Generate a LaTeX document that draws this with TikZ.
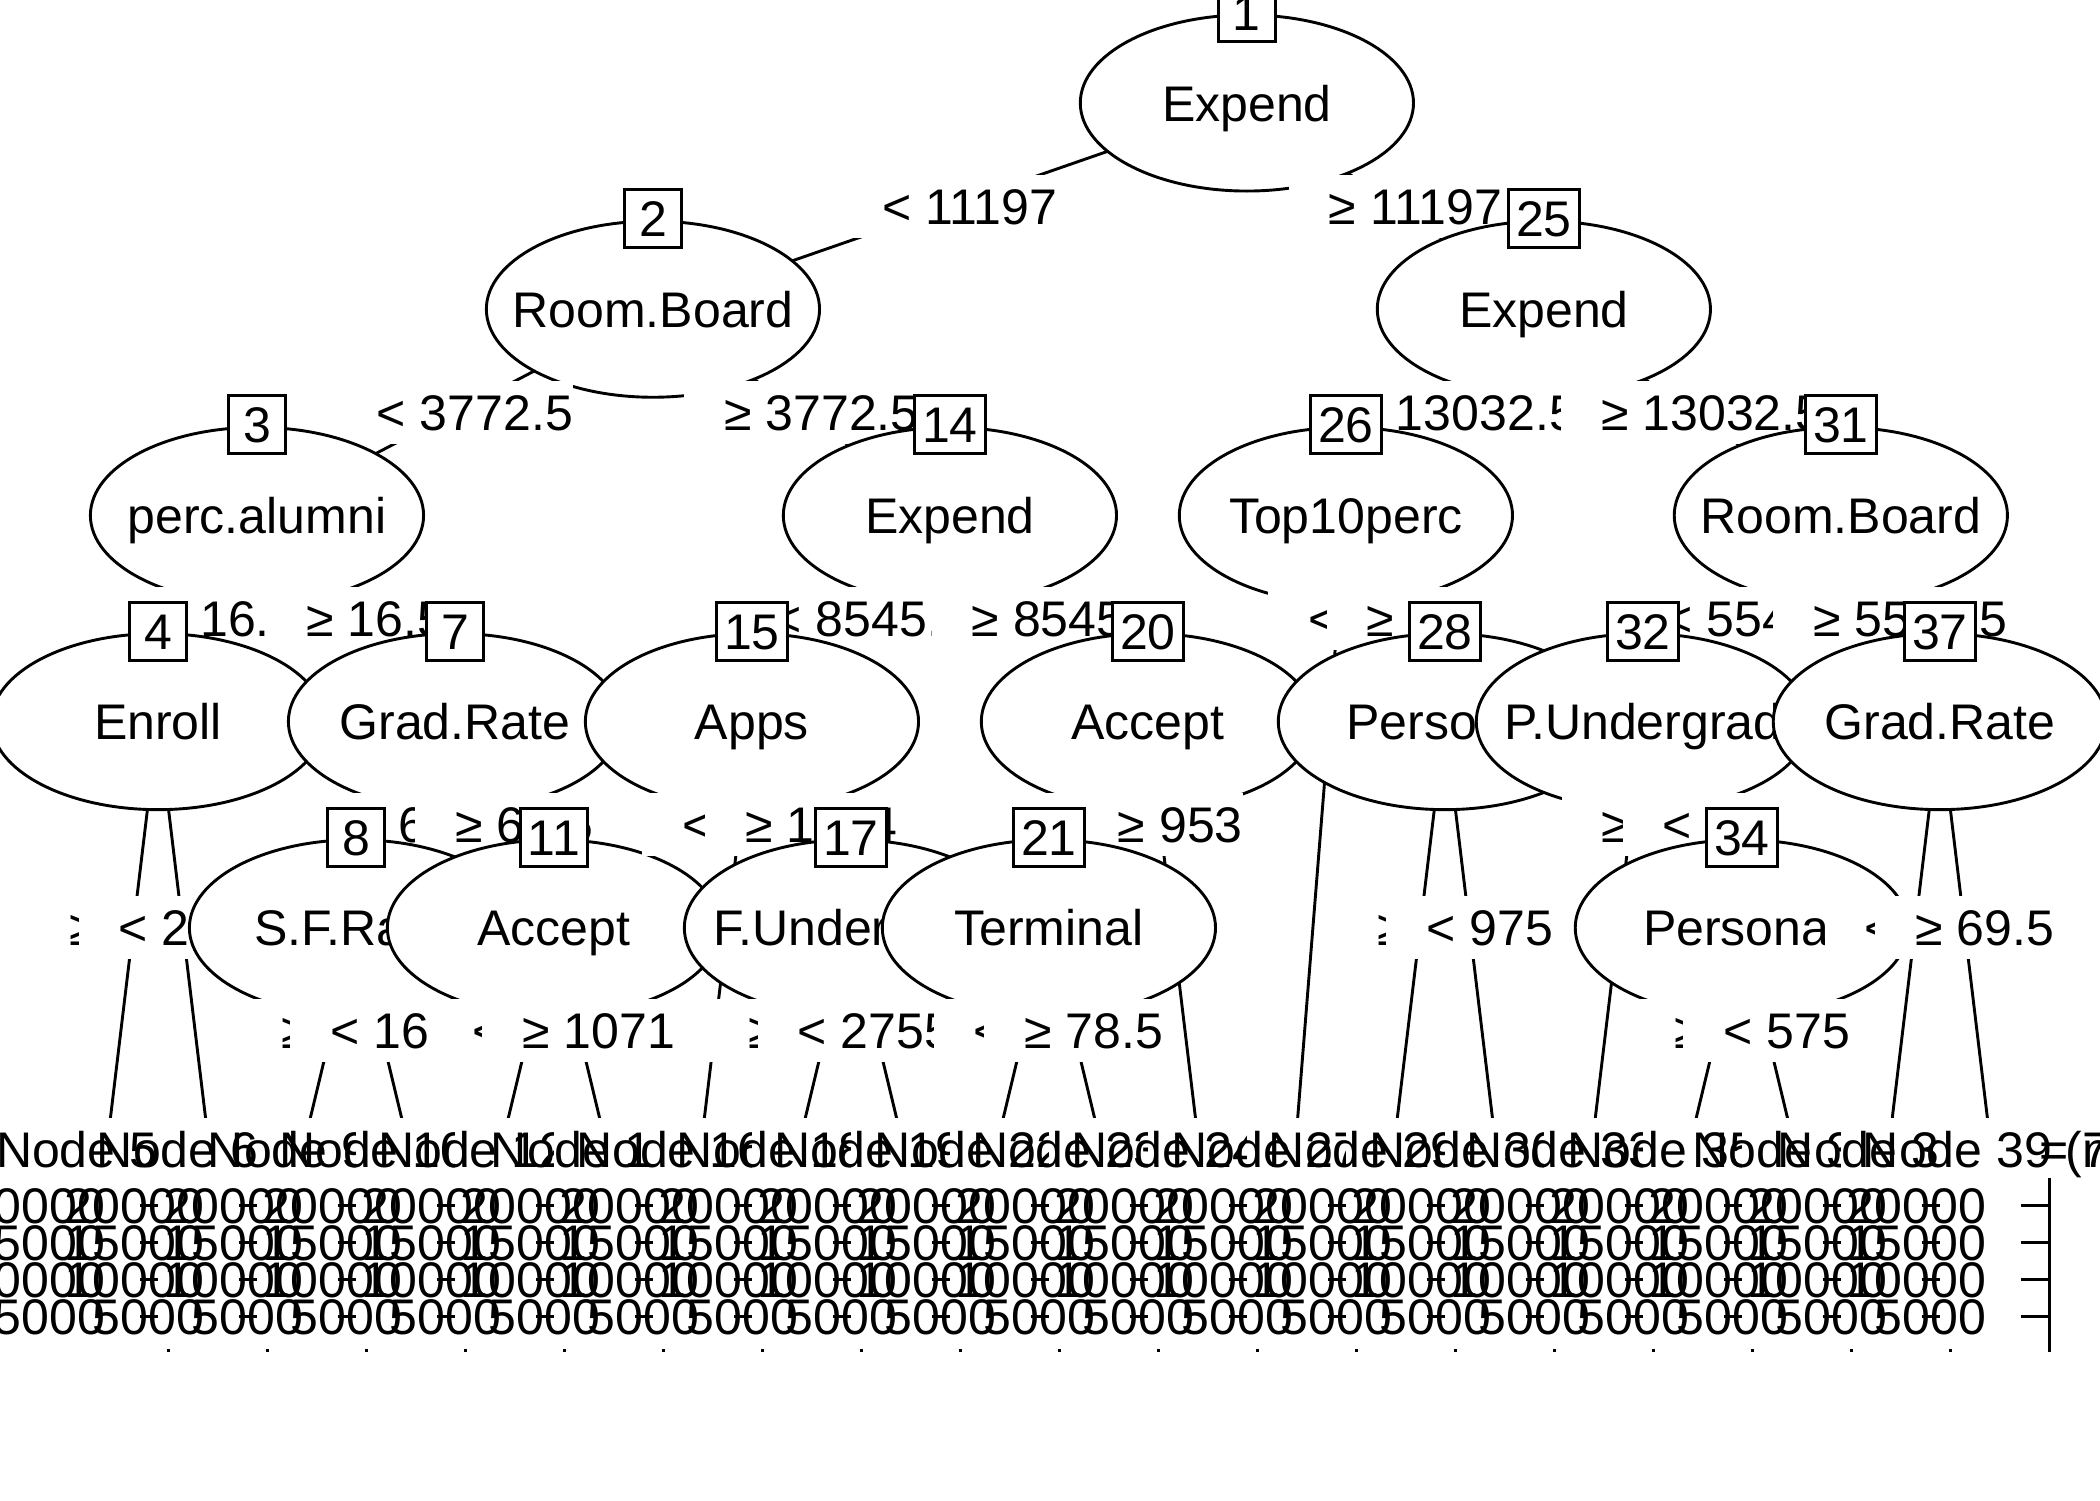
\documentclass[tikz,border=0pt]{standalone}
\usepackage{fontspec}
\setmainfont{Liberation Sans}
\usetikzlibrary{shapes.geometric}
\newcommand\InnerNode[4]{%
  \node[ell] (e#1) at (#2,#3) {};
  \node[vtxt] (v#1) at (#2,#3) {#4};
  \node[idbox] (b#1) at (#2,#3-90.5) {#1};}
\newcommand\EdgeLab[4]{\node[elab] (l#1) at (#2,#3) {\hspace*{0.4cm}#4};}
\begin{document}
\begin{tikzpicture}[x=0.01cm,y=-0.01cm,line width=0.029cm,
  font=\fontsize{14.23pt}{17pt}\selectfont,
  ell/.style={draw,fill=white,ellipse,minimum width=3.33cm,minimum height=1.76cm,inner sep=0pt},
  vtxt/.style={inner sep=0pt,text height=0.36cm,text depth=0pt},
  idbox/.style={draw,fill=white,minimum width=0.575cm,minimum height=0.58cm,inner xsep=0.077cm,inner ysep=0pt,text height=0.36cm,text depth=0pt},
  elab/.style={fill=white,inner xsep=0pt,inner ysep=0pt,minimum height=0.63cm,text height=0.36cm,text depth=0pt},
  ttl/.style={inner sep=0pt,text height=0.36cm,text depth=0pt},
  axl/.style={inner sep=0pt,text height=0.36cm,text depth=0pt,anchor=east}]
\fill[white] (0,0) rectangle (2100,1500);
\useasboundingbox (0,0) rectangle (2100,1500);
% inner node positions
\coordinate (n1) at (1246.89,103);
\coordinate (n2) at (652.95,309.2);
\coordinate (n25) at (1543.86,309.2);
\coordinate (n3) at (256.99,515.4);
\coordinate (n14) at (949.92,515.4);
\coordinate (n26) at (1345.88,515.4);
\coordinate (n31) at (1840.83,515.4);
\coordinate (n4) at (158.00,721.6);
\coordinate (n7) at (454.97,721.6);
\coordinate (n15) at (751.94,721.6);
\coordinate (n20) at (1147.90,721.6);
\coordinate (n28) at (1444.87,721.6);
\coordinate (n32) at (1642.85,721.6);
\coordinate (n37) at (1939.82,721.6);
\coordinate (n8) at (355.98,927.8);
\coordinate (n11) at (553.96,927.8);
\coordinate (n17) at (850.93,927.8);
\coordinate (n21) at (1048.91,927.8);
\coordinate (n34) at (1741.84,927.8);
% terminal node positions
\foreach \t/\id in {108.5/5,207.49/6,306.48/9,405.47/10,504.46/12,603.45/13,702.44/16,801.43/18,900.42/19,999.41/22,1098.4/23,1197.39/24,1296.38/27,1395.37/29,1494.36/30,1593.35/33,1692.34/35,1791.33/36,1890.32/38,1989.31/39}
  {\coordinate (n\id) at (\t,1134);}
% node 1
\draw (n1) -- (n2); \draw (n1) -- (n25);
\InnerNode{1}{1246.89}{103}{Expend}
\EdgeLab{2}{949.92}{206.1}{< 11197}
\EdgeLab{25}{1395.38}{206.1}{≥ 11197}
% node 2
\draw (n2) -- (n3); \draw (n2) -- (n14);
\InnerNode{2}{652.95}{309.2}{Room.Board}
\EdgeLab{3}{454.97}{412.3}{< 3772.5}
\EdgeLab{14}{801.44}{412.3}{≥ 3772.5}
% node 3
\draw (n3) -- (n4); \draw (n3) -- (n7);
\InnerNode{3}{256.99}{515.4}{perc.alumni}
\EdgeLab{4}{207.50}{618.5}{< 16.5}
\EdgeLab{7}{355.98}{618.5}{≥ 16.5}
% node 4
\draw (n4) -- (n5); \draw (n4) -- (n6);
\InnerNode{4}{158}{721.6}{Enroll}
\EdgeLab{5}{133.25}{927.8}{≥ 235.5}
\EdgeLab{6}{182.75}{927.8}{< 235.5}
% node 7
\draw (n7) -- (n8); \draw (n7) -- (n11);
\InnerNode{7}{454.97}{721.6}{Grad.Rate}
\EdgeLab{8}{405.48}{824.7}{< 62.5}
\EdgeLab{11}{504.47}{824.7}{≥ 62.5}
% node 8
\draw (n8) -- (n9); \draw (n8) -- (n10);
\InnerNode{8}{355.98}{927.8}{S.F.Ratio}
\EdgeLab{9}{331.23}{1030.9}{≥ 16.5}
\EdgeLab{10}{380.73}{1030.9}{< 16.5}
% node 11
\draw (n11) -- (n12); \draw (n11) -- (n13);
\InnerNode{11}{553.96}{927.8}{Accept}
\EdgeLab{12}{529.21}{1030.9}{< 1071}
\EdgeLab{13}{578.71}{1030.9}{≥ 1071}
% node 14
\draw (n14) -- (n15); \draw (n14) -- (n20);
\InnerNode{14}{949.92}{515.4}{Expend}
\EdgeLab{15}{850.93}{618.5}{< 8545.5}
\EdgeLab{20}{1048.91}{618.5}{≥ 8545.5}
% node 15
\draw (n15) -- (n16); \draw (n15) -- (n17);
\InnerNode{15}{751.94}{721.6}{Apps}
\EdgeLab{16}{739.57}{824.7}{< 1534}
\EdgeLab{17}{801.44}{824.7}{≥ 1534}
% node 17
\draw (n17) -- (n18); \draw (n17) -- (n19);
\InnerNode{17}{850.93}{927.8}{F.Undergrad}
\EdgeLab{18}{826.18}{1030.9}{≥ 2755.5}
\EdgeLab{19}{875.68}{1030.9}{< 2755.5}
% node 20
\draw (n20) -- (n21); \draw (n20) -- (n24);
\InnerNode{20}{1147.9}{721.6}{Accept}
\EdgeLab{21}{1098.41}{824.7}{< 953}
\EdgeLab{24}{1160.27}{824.7}{≥ 953}
% node 21
\draw (n21) -- (n22); \draw (n21) -- (n23);
\InnerNode{21}{1048.91}{927.8}{Terminal}
\EdgeLab{22}{1024.16}{1030.9}{< 78.5}
\EdgeLab{23}{1073.66}{1030.9}{≥ 78.5}
% node 25
\draw (n25) -- (n26); \draw (n25) -- (n31);
\InnerNode{25}{1543.86}{309.2}{Expend}
\EdgeLab{26}{1444.87}{412.3}{< 13032.5}
\EdgeLab{31}{1692.35}{412.3}{≥ 13032.5}
% node 26
\draw (n26) -- (n27); \draw (n26) -- (n28);
\InnerNode{26}{1345.88}{515.4}{Top10perc}
\EdgeLab{27}{1337.63}{618.5}{< 15}
\EdgeLab{28}{1395.38}{618.5}{≥ 15}
% node 28
\draw (n28) -- (n29); \draw (n28) -- (n30);
\InnerNode{28}{1444.87}{721.6}{Personal}
\EdgeLab{29}{1420.12}{927.8}{≥ 975}
\EdgeLab{30}{1469.62}{927.8}{< 975}
% node 31
\draw (n31) -- (n32); \draw (n31) -- (n37);
\InnerNode{31}{1840.83}{515.4}{Room.Board}
\EdgeLab{32}{1741.84}{618.5}{< 5545.5}
\EdgeLab{37}{1890.33}{618.5}{≥ 5545.5}
% node 32
\draw (n32) -- (n33); \draw (n32) -- (n34);
\InnerNode{32}{1642.85}{721.6}{P.Undergrad}
\EdgeLab{33}{1630.48}{824.7}{≥ 93}
\EdgeLab{34}{1692.35}{824.7}{< 93}
% node 34
\draw (n34) -- (n35); \draw (n34) -- (n36);
\InnerNode{34}{1741.84}{927.8}{Personal}
\EdgeLab{35}{1717.09}{1030.9}{≥ 575}
\EdgeLab{36}{1766.59}{1030.9}{< 575}
% node 37
\draw (n37) -- (n38); \draw (n37) -- (n39);
\InnerNode{37}{1939.82}{721.6}{Grad.Rate}
\EdgeLab{38}{1915.07}{927.8}{< 69.5}
\EdgeLab{39}{1964.57}{927.8}{≥ 69.5}
% terminal panels
\foreach \t/\id/\nn in {108.5/5/104,207.49/6/118,306.48/9/37,405.47/10/126,504.46/12/131,603.45/13/42,702.44/16/103,801.43/18/112,900.42/19/107,999.41/22/115,1098.4/23/109,1197.39/24/121,1296.38/27/113,1395.37/29/106,1494.36/30/117,1593.35/33/102,1692.34/35/110,1791.33/36/9,1890.32/38/71,1989.31/39/125}{
  \fill[white] (\t-49.5,1118) rectangle (\t+49.5,1348.5);
  \node[ttl] (h\id) at (\t+76,1149.2) {Node \id\ (n = \nn)};
  \foreach \yy/\lab in {1205.3/20000,1242.3/15000,1279.3/10000,1316.3/5000}{
    \node[axl] (a\id-\lab) at (\t-2,\yy) {\lab};
    \draw (\t+31.25,\yy) -- (\t+60.25,\yy);
  }
  \draw (\t+60.25,1178) -- (\t+60.25,1351.5);
}
\end{tikzpicture}
\end{document}
